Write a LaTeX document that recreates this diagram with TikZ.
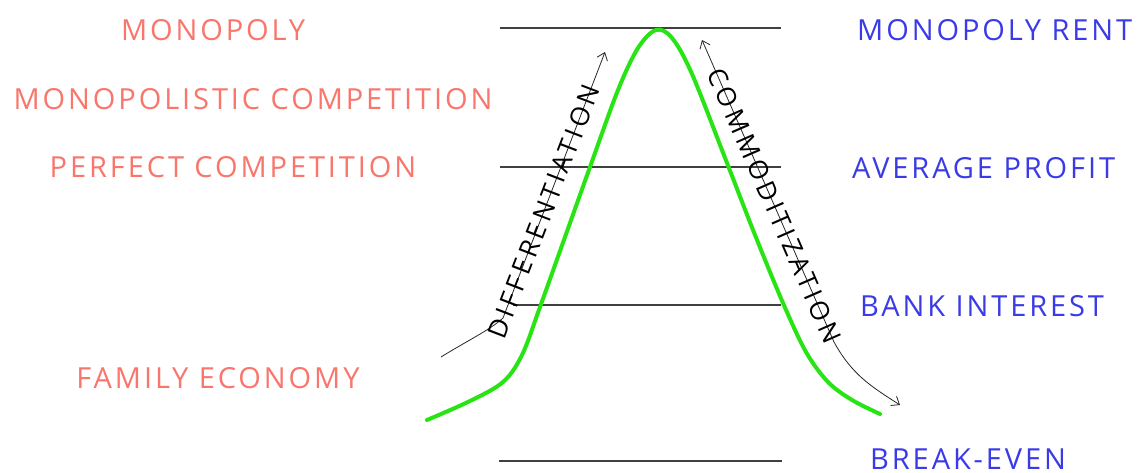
\documentclass[tikz,border=0pt]{standalone}
\usepackage{fontspec}
\setmainfont{Open Sans}
\newfontfamily\labelfont[LetterSpace=10]{Open Sans}
\newfontfamily\trendfont[LetterSpace=15]{Open Sans}
\usetikzlibrary{arrows.meta}

\definecolor{salmon}{RGB}{248,118,108}
\definecolor{inkblue}{RGB}{58,58,232}
\definecolor{curvegreen}{RGB}{40,228,20}

\def\labelsize{\labelfont\fontsize{29}{32}\selectfont}
\def\arrowsize{\trendfont\fontsize{26}{28}\selectfont}
\tikzstyle{market} = [text=salmon,
font=\labelsize,
inner sep=0pt]
\tikzstyle{income} = [text=inkblue,
font=\labelsize,
anchor=west,
inner sep=0pt]
\tikzstyle{level} = [draw=black!75,
line width=1.2pt]
\tikzstyle{trend} = [draw=black!85,
line width=0.8pt]
\tikzstyle{trendtext} = [font=\arrowsize,
inner sep=0pt,
sloped]

\begin{document}
\begin{tikzpicture}[x=1pt, y=-1pt]
    \useasboundingbox (0,0) rectangle (1147,473);
    %%%%%%%%%%%%%%%%%%%%%%%%%%%%%%%%%%%%%%%%
    % Markets
    %%%%%%%%%%%%%%%%%%%%%%%%%%%%%%%%%%%%%%%%
    \node (monopoly) [market] at (213,30) {MONOPOLY};
    \node (monocomp) [market] at (253,99) {MONOPOLISTIC COMPETITION};
    \node (perfect) [market] at (233,167) {PERFECT COMPETITION};
    \node (family) [market] at (218,378) {FAMILY ECONOMY};
    %%%%%%%%%%%%%%%%%%%%%%%%%%%%%%%%%%%%%%%%
    % Incomes
    %%%%%%%%%%%%%%%%%%%%%%%%%%%%%%%%%%%%%%%%
    \node (rent) [income] at (857,30) {MONOPOLY RENT};
    \node (profit) [income] at (852,168) {AVERAGE PROFIT};
    \node (interest) [income] at (860,306) {BANK INTEREST};
    \node (breakeven) [income] at (870,459) {BREAK-EVEN};
    %%%%%%%%%%%%%%%%%%%%%%%%%%%%%%%%%%%%%%%%
    % Levels
    %%%%%%%%%%%%%%%%%%%%%%%%%%%%%%%%%%%%%%%%
    \coordinate (rentL) at (500,28);
    \coordinate (rentR) at (781,28);
    \coordinate (profitL) at (500,167);
    \coordinate (profitR) at (781,167);
    \coordinate (interestL) at (513,305);
    \coordinate (interestR) at (781,305);
    \coordinate (evenL) at (499,461);
    \coordinate (evenR) at (782,461);
    \draw [level] (rentL) -- (rentR);
    \draw [level] (profitL) -- (profitR);
    \draw [level] (interestL) -- (interestR);
    \draw [level] (evenL) -- (evenR);
    %%%%%%%%%%%%%%%%%%%%%%%%%%%%%%%%%%%%%%%%
    % Curve
    %%%%%%%%%%%%%%%%%%%%%%%%%%%%%%%%%%%%%%%%
    \draw [curvegreen, line width=4pt, line cap=round]
        plot [smooth, tension=0.55] coordinates {(427,420) (470,401) (503,382)
        (522,355) (540,307) (565,237) (590,167) (618,90) (638,48) (656,30)
        (672,38) (692,74) (727,163) (755,235) (783,303) (806,352) (828,382)
        (852,400) (880,414)};
    %%%%%%%%%%%%%%%%%%%%%%%%%%%%%%%%%%%%%%%%
    % Trends
    %%%%%%%%%%%%%%%%%%%%%%%%%%%%%%%%%%%%%%%%
    \coordinate (diffA) at (441,357);
    \coordinate (diffB) at (503,318);
    \coordinate (diffC) at (605,52);
    \coordinate (commA) at (702,40);
    \coordinate (commB) at (834,342);
    \coordinate (commC) at (900,405);
    \draw [trend, -{Straight Barb[length=7pt, width=11pt]}] (diffA)
        .. controls (465,342) and (490,330) .. (diffB)
        -- node (difftext) [trendtext, pos=0.4] {DIFFERENTIATION} (diffC);
    \draw [trend, {Straight Barb[length=7pt, width=11pt]}-{Straight Barb[length=7pt, width=11pt]}] (commA)
        -- node (commtext) [trendtext, pos=0.55] {COMMODITIZATION} (commB)
        .. controls (852,375) and (872,387) .. (commC);
\end{tikzpicture}
\end{document}
